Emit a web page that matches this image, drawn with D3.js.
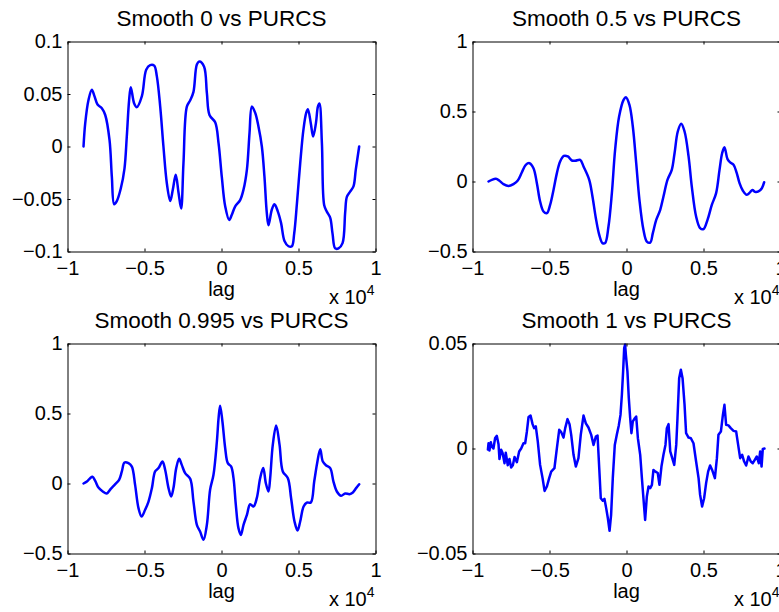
<!DOCTYPE html>
<html>
<head>
<meta charset="utf-8">
<script src="https://cdn.jsdelivr.net/npm/d3@7"></script>
<style>
  html, body { margin: 0; padding: 0; background: #fff; }
  svg { display: block; font-family: "Liberation Sans", Arial, Helvetica, sans-serif; }
</style>
</head>
<body>
<svg id="fig" width="779" height="612"></svg>
<script>
// Cross-correlation of each smoothed series against PURCS.
// Lags are in units of 10^4 samples (the axis carries the "x 10^4" multiplier).

const titles = ["Smooth 0 vs PURCS", "Smooth 0.5 vs PURCS", "Smooth 0.995 vs PURCS", "Smooth 1 vs PURCS"];

const xTicks = [-1, -0.5, 0, 0.5, 1];
const yTicks0 = [-0.1, -0.05, 0, 0.05, 0.1];
const yTicks05 = [-0.5, 0, 0.5, 1];
const yTicks0995 = [-0.5, 0, 0.5, 1];
const yTicks1 = [-0.05, 0, 0.05];

// Smooth 0
const lag0 = [-0.896,-0.885,-0.864,-0.842,-0.825,-0.805,-0.777,-0.755,-0.727,-0.712,
  -0.697,-0.680,-0.654,-0.630,-0.615,-0.600,-0.589,-0.567,-0.550,-0.517,
  -0.489,-0.463,-0.437,-0.420,-0.398,-0.377,-0.355,-0.333,-0.316,-0.297,
  -0.279,-0.262,-0.247,-0.225,-0.203,-0.182,-0.160,-0.143,-0.113,-0.095,
  -0.078,-0.041,-0.019,0.002,0.024,0.050,0.067,0.089,0.121,0.143,
  0.165,0.182,0.197,0.219,0.240,0.262,0.279,0.294,0.305,0.327,
  0.344,0.366,0.387,0.409,0.435,0.457,0.472,0.490,0.511,0.532,
  0.550,0.561,0.580,0.595,0.613,0.626,0.636,0.652,0.667,0.684,
  0.706,0.721,0.738,0.760,0.786,0.803,0.814,0.835,0.857,0.872,
  0.894];
const corr0 = [0,0.022,0.044,0.054,0.048,0.040,0.0365,0.030,0.006,-0.029,
  -0.055,-0.052,-0.040,-0.021,0.0095,0.044,0.0565,0.041,0.0375,0.048,
  0.073,0.0775,0.077,0.067,0.038,0,-0.035,-0.052,-0.041,-0.027,
  -0.044,-0.059,-0.016,0.038,0.044,0.052,0.078,0.081,0.076,0.051,
  0.030,0.023,0.003,-0.029,-0.057,-0.070,-0.065,-0.057,-0.051,-0.041,
  -0.022,0.013,0.038,0.032,0.019,0,-0.029,-0.063,-0.075,-0.060,
  -0.055,-0.062,-0.073,-0.090,-0.095,-0.095,-0.083,-0.054,-0.016,0.016,
  0.032,0.0355,0.022,0.0095,0.022,0.038,0.041,0.003,-0.056,-0.062,
  -0.068,-0.083,-0.097,-0.097,-0.092,-0.063,-0.048,-0.043,-0.038,-0.022,
  0];

// Smooth 0.5
const lag05 = [-0.896,-0.874,-0.848,-0.827,-0.799,-0.766,-0.734,-0.706,-0.680,-0.654,
  -0.630,-0.604,-0.582,-0.561,-0.539,-0.517,-0.496,-0.474,-0.452,-0.431,
  -0.407,-0.381,-0.355,-0.333,-0.301,-0.279,-0.242,-0.221,-0.199,-0.177,
  -0.156,-0.139,-0.117,-0.095,-0.074,-0.048,-0.019,-0.004,0.019,0.041,
  0.063,0.084,0.110,0.132,0.154,0.171,0.193,0.219,0.240,0.266,
  0.294,0.312,0.333,0.355,0.377,0.403,0.424,0.452,0.478,0.500,
  0.526,0.554,0.582,0.604,0.621,0.636,0.656,0.673,0.695,0.716,
  0.734,0.755,0.781,0.803,0.818,0.835,0.857,0.879,0.894];
const corr05 = [0,0.012,0.019,0.007,-0.019,-0.033,-0.019,0.007,0.064,0.119,
  0.131,0.095,-0.012,-0.143,-0.214,-0.226,-0.167,-0.060,0.060,0.143,
  0.183,0.179,0.150,0.148,0.155,0.107,0.012,-0.107,-0.262,-0.381,
  -0.440,-0.440,-0.321,-0.083,0.226,0.464,0.583,0.602,0.548,0.393,
  0.131,-0.131,-0.345,-0.429,-0.436,-0.369,-0.274,-0.202,-0.107,0.012,
  0.083,0.202,0.357,0.412,0.357,0.179,-0.036,-0.250,-0.333,-0.340,
  -0.274,-0.167,-0.083,0.083,0.202,0.245,0.160,0.136,0.119,0.060,
  -0.012,-0.064,-0.095,-0.076,-0.060,-0.074,-0.071,-0.048,-0.005];

// Smooth 0.995
const lag0995 = [-0.896,-0.874,-0.853,-0.838,-0.820,-0.799,-0.771,-0.745,-0.719,-0.690,
  -0.665,-0.647,-0.630,-0.604,-0.582,-0.561,-0.539,-0.519,-0.496,-0.474,
  -0.452,-0.431,-0.409,-0.383,-0.366,-0.344,-0.327,-0.312,-0.294,-0.275,
  -0.258,-0.236,-0.203,-0.182,-0.160,-0.139,-0.117,-0.095,-0.074,-0.052,
  -0.030,-0.019,-0.009,0.006,0.024,0.041,0.063,0.078,0.093,0.110,
  0.126,0.143,0.165,0.186,0.208,0.229,0.251,0.271,0.288,0.305,
  0.316,0.333,0.355,0.377,0.398,0.431,0.452,0.474,0.494,0.511,
  0.533,0.554,0.580,0.602,0.621,0.641,0.658,0.680,0.706,0.727,
  0.749,0.777,0.803,0.831,0.853,0.874,0.894];
const corr0995 = [0,0.014,0.038,0.048,0.019,-0.029,-0.057,-0.071,-0.038,-0.005,
  0.026,0.086,0.150,0.145,0.121,-0.010,-0.176,-0.236,-0.188,-0.129,
  -0.033,0.086,0.110,0.157,0.098,-0.033,-0.093,-0.033,0.110,0.176,
  0.133,0.074,0.033,-0.129,-0.295,-0.343,-0.402,-0.295,-0.045,0.062,
  0.300,0.467,0.555,0.443,0.252,0.145,0.121,0.038,-0.152,-0.319,
  -0.367,-0.295,-0.224,-0.148,-0.164,-0.105,0.038,0.110,0.002,-0.057,
  0.038,0.276,0.414,0.276,0.086,0.038,-0.105,-0.271,-0.336,-0.271,
  -0.164,-0.136,-0.136,0.014,0.145,0.245,0.157,0.129,0.110,0.014,
  -0.057,-0.088,-0.071,-0.076,-0.064,-0.033,-0.005];

// Smooth 1
const lag1 = [-0.900,-0.896,-0.890,-0.881,-0.875,-0.864,-0.853,-0.842,-0.831,-0.825,
  -0.814,-0.805,-0.792,-0.784,-0.771,-0.760,-0.749,-0.738,-0.727,-0.712,
  -0.697,-0.684,-0.669,-0.658,-0.647,-0.636,-0.623,-0.610,-0.600,-0.589,
  -0.576,-0.561,-0.545,-0.532,-0.517,-0.502,-0.489,-0.468,-0.452,-0.437,
  -0.424,-0.409,-0.398,-0.383,-0.370,-0.359,-0.344,-0.329,-0.312,-0.297,
  -0.279,-0.264,-0.247,-0.229,-0.214,-0.199,-0.188,-0.177,-0.167,-0.154,
  -0.143,-0.132,-0.121,-0.110,-0.100,-0.089,-0.076,-0.063,-0.050,-0.039,
  -0.030,-0.022,-0.015,-0.009,-0.004,0.006,0.015,0.024,0.032,0.041,
  0.054,0.063,0.074,0.089,0.100,0.110,0.121,0.132,0.143,0.154,
  0.165,0.175,0.188,0.203,0.214,0.227,0.240,0.253,0.262,0.273,
  0.284,0.297,0.310,0.323,0.331,0.342,0.353,0.364,0.377,0.387,
  0.403,0.418,0.435,0.452,0.468,0.478,0.491,0.504,0.517,0.530,
  0.543,0.556,0.574,0.587,0.597,0.613,0.626,0.636,0.647,0.662,
  0.677,0.695,0.712,0.725,0.738,0.751,0.764,0.777,0.792,0.807,
  0.820,0.833,0.846,0.859,0.868,0.877,0.885,0.896];
const corr1 = [-0.0005,0.0025,-0.001,0.003,0.001,0.000,0.005,0.006,0.002,-0.005,
  -0.0006,-0.002,-0.007,-0.002,-0.008,-0.005,-0.009,-0.008,-0.004,-0.0065,
  -0.0014,0.000,0.0025,0.0025,0.008,0.015,0.0157,0.0116,0.0097,0.0105,
  0.0033,-0.0078,-0.0141,-0.0202,-0.0181,-0.0141,-0.011,-0.0094,0.0002,0.0089,
  0.0078,0.0052,0.0097,0.014,0.0116,0.0065,-0.003,-0.0086,-0.0046,0.0065,
  0.0157,0.012,0.010,0.0065,0.0017,0.0057,0.0062,-0.0094,-0.0237,-0.0249,
  -0.024,-0.0284,-0.0332,-0.0392,-0.0316,-0.0141,0.0017,0.0065,0.011,0.016,
  0.0256,0.0367,0.0478,0.0495,0.0446,0.0367,0.024,0.0144,0.0073,0.0129,
  0.0144,0.0152,0.0049,-0.003,-0.0141,-0.0237,-0.034,-0.0229,-0.0181,-0.0189,
  -0.0173,-0.0102,-0.011,-0.0117,-0.0173,-0.0086,-0.003,0.0017,0.0097,0.0116,
  -0.0014,-0.0046,-0.0078,0.0017,0.0144,0.0335,0.0375,0.0335,0.0208,0.0073,
  0.0052,0.0049,0.0025,-0.0062,-0.0141,-0.0221,-0.0276,-0.0237,-0.0165,-0.011,
  -0.0081,-0.0102,-0.0141,-0.0046,0.0065,0.0081,0.016,0.0208,0.0113,0.011,
  0.0097,0.0084,0.0081,0.0017,-0.0046,-0.003,-0.0062,-0.0081,-0.0038,-0.0062,
  -0.007,-0.0054,-0.0038,-0.007,-0.0014,-0.0086,-0.0002,0];

// Subplot grid (2 x 2), pixel boxes of each axes
const cols = [{ l: 67.5, r: 375.5 }, { l: 472.5, r: 780.5 }];
const rows = [{ t: 41.5, b: 251.5 }, { t: 343.5, b: 553.5 }];

const panels = [
  { title: titles[0], lag: lag0, corr: corr0, yDomain: [-0.1, 0.1], yTicks: yTicks0, curve: d3.curveCatmullRom.alpha(0.5), col: 0, row: 0 },
  { title: titles[1], lag: lag05, corr: corr05, yDomain: [-0.5, 1], yTicks: yTicks05, curve: d3.curveCatmullRom.alpha(0.5), col: 1, row: 0 },
  { title: titles[2], lag: lag0995, corr: corr0995, yDomain: [-0.5, 1], yTicks: yTicks0995, curve: d3.curveCatmullRom.alpha(0.5), col: 0, row: 1 },
  { title: titles[3], lag: lag1, corr: corr1, yDomain: [-0.05, 0.05], yTicks: yTicks1, curve: d3.curveLinear, col: 1, row: 1 }
];

// Tick labels use a true minus sign
const fmt = v => (v < 0 ? "\u2212" + String(Math.abs(v)) : String(v));

const svg = d3.select("#fig");

function styleAxis(g) {
  g.attr("font-family", null).attr("font-size", 20);
  g.selectAll("path.domain").attr("stroke", "#000").attr("stroke-width", 1);
  g.selectAll(".tick line").attr("stroke", "#000").attr("stroke-width", 1);
  g.selectAll(".tick text").attr("fill", "#000");
}

panels.forEach(p => {
  const { l, r } = cols[p.col];
  const { t, b } = rows[p.row];
  const x = d3.scaleLinear().domain([-1, 1]).range([l, r]);
  const y = d3.scaleLinear().domain(p.yDomain).range([b, t]);
  const g = svg.append("g");

  // correlation curve
  g.append("path")
    .datum(d3.zip(p.lag, p.corr))
    .attr("fill", "none")
    .attr("stroke", "#0000ff")
    .attr("stroke-width", 2.5)
    .attr("stroke-linejoin", "round")
    .attr("stroke-linecap", "round")
    .attr("d", d3.line().x(d => x(d[0])).y(d => y(d[1])).curve(p.curve));

  // boxed axes with inward ticks on all four sides
  g.append("g").attr("transform", `translate(0,${b})`)
    .call(d3.axisBottom(x).tickValues(xTicks).tickFormat(fmt).tickSizeInner(-3).tickSizeOuter(0).tickPadding(9.5))
    .call(styleAxis);
  g.append("g").attr("transform", `translate(${l},0)`)
    .call(d3.axisLeft(y).tickValues(p.yTicks).tickFormat(fmt).tickSizeInner(-3).tickSizeOuter(0).tickPadding(5))
    .call(styleAxis);
  g.append("g").attr("transform", `translate(0,${t})`)
    .call(d3.axisTop(x).tickValues(xTicks).tickFormat(() => "").tickSizeInner(-3).tickSizeOuter(0))
    .call(styleAxis);
  g.append("g").attr("transform", `translate(${r},0)`)
    .call(d3.axisRight(y).tickValues(p.yTicks).tickFormat(() => "").tickSizeInner(-3).tickSizeOuter(0))
    .call(styleAxis);

  // title
  g.append("text")
    .attr("x", (l + r) / 2).attr("y", t - 15.5)
    .attr("text-anchor", "middle").attr("font-size", 22.5).attr("fill", "#000")
    .text(p.title);

  // x label
  g.append("text")
    .attr("x", (l + r) / 2).attr("y", b + 44)
    .attr("text-anchor", "middle").attr("font-size", 20).attr("fill", "#000")
    .text("lag");

  // exponent multiplier
  const m = g.append("text")
    .attr("x", r - 1).attr("y", b + 52)
    .attr("text-anchor", "end").attr("font-size", 20).attr("fill", "#000");
  m.append("tspan").text("x 10");
  m.append("tspan").attr("dy", -9).attr("font-size", 14).text("4");
});
</script>
</body>
</html>
